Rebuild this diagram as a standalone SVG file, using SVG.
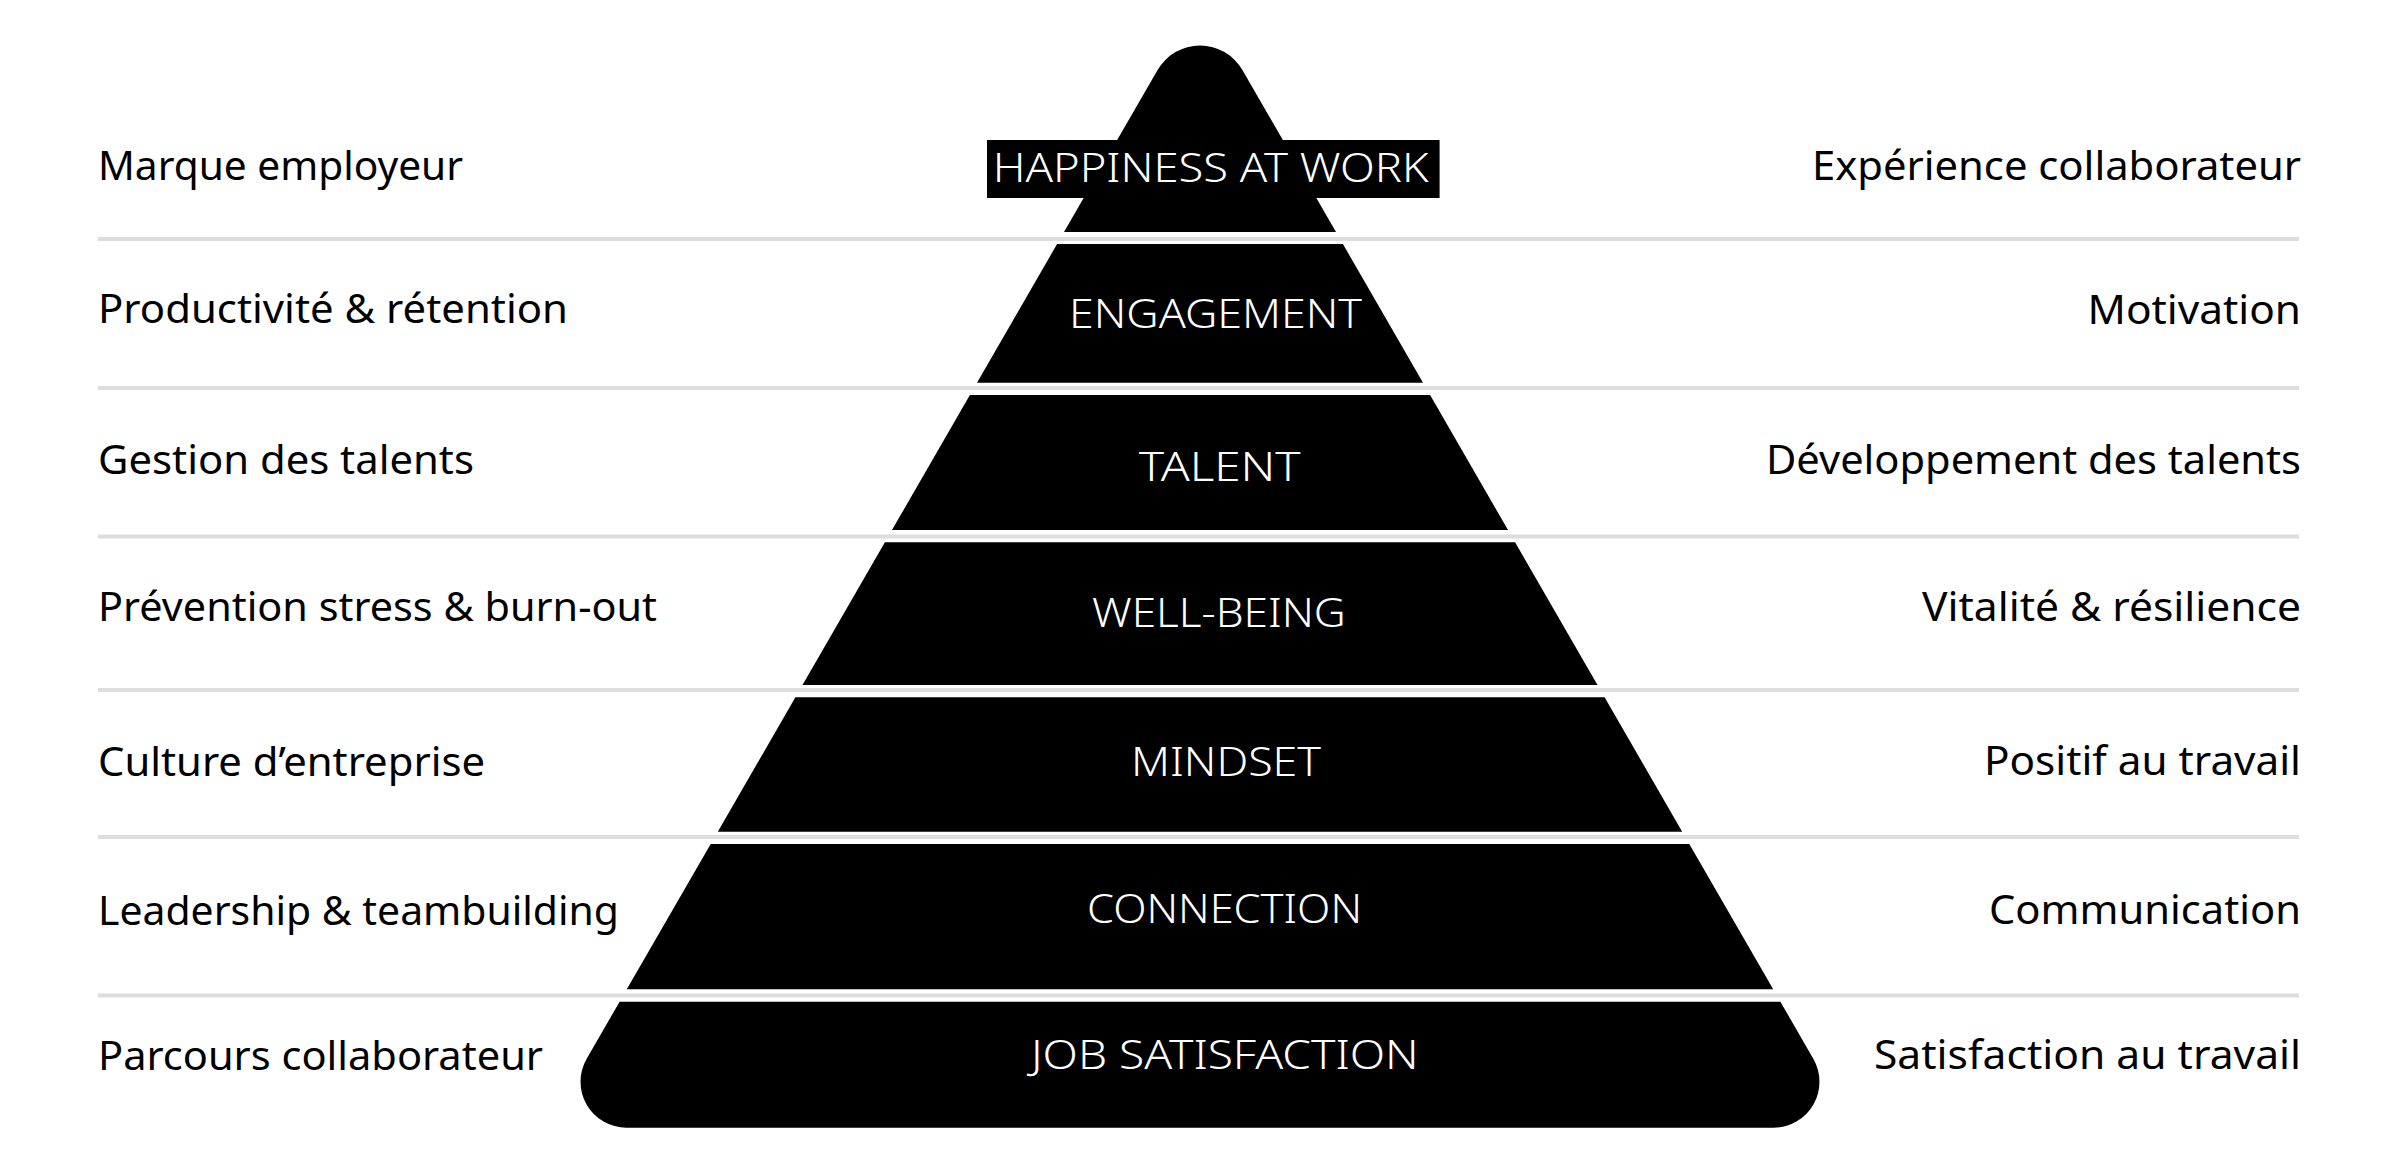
<svg xmlns="http://www.w3.org/2000/svg" width="2400" height="1164" viewBox="0 0 2400 1164">
  <style>
    .side { font-family: "Noto Sans", "Liberation Sans", sans-serif; font-size: 40px; fill: #000000; }
    .tier-label { font-family: "Noto Sans", "Liberation Sans", sans-serif; font-size: 40px; font-weight: 300; fill: #ffffff; }
    .tier { fill: #000000; }
    .rule { stroke: #dddddd; stroke-width: 4; }
  </style>
  <rect x="0" y="0" width="2400" height="1164" fill="#ffffff"/>

  <g id="connectors">
    <line class="rule" x1="98" y1="239" x2="2299" y2="239"/>
    <line class="rule" x1="98" y1="388" x2="2299" y2="388"/>
    <line class="rule" x1="98" y1="536.5" x2="2299" y2="536.5"/>
    <line class="rule" x1="98" y1="690" x2="2299" y2="690"/>
    <line class="rule" x1="98" y1="837" x2="2299" y2="837"/>
    <line class="rule" x1="98" y1="995.5" x2="2299" y2="995.5"/>
  </g>

  <g id="tier-happiness">
    <path class="tier" d="M1064,232 L1157.6,70 A49,49 0 0 1 1242.4,70 L1336,232 Z"/>
    <rect class="tier" x="987" y="140" width="452.6" height="58"/>
    <text class="tier-label" x="992.7" y="181.5" textLength="436" lengthAdjust="spacingAndGlyphs">HAPPINESS AT WORK</text>
  </g>

  <g id="tier-engagement">
    <path class="tier" d="M1057.1,244 L1342.9,244 L1423,382.7 L977,382.7 Z"/>
    <text class="tier-label" x="1069" y="328" textLength="293" lengthAdjust="spacingAndGlyphs">ENGAGEMENT</text>
  </g>

  <g id="tier-talent">
    <path class="tier" d="M969.9,395 L1430.1,395 L1508,530 L892,530 Z"/>
    <text class="tier-label" x="1138.7" y="480.7" textLength="162" lengthAdjust="spacingAndGlyphs">TALENT</text>
  </g>

  <g id="tier-wellbeing">
    <path class="tier" d="M884.9,542.3 L1515.1,542.3 L1597.5,685 L802.5,685 Z"/>
    <text class="tier-label" x="1092" y="627.3" textLength="253.7" lengthAdjust="spacingAndGlyphs">WELL-BEING</text>
  </g>

  <g id="tier-mindset">
    <path class="tier" d="M795.4,697.3 L1604.6,697.3 L1682.2,831.7 L717.8,831.7 Z"/>
    <text class="tier-label" x="1131" y="776" textLength="190" lengthAdjust="spacingAndGlyphs">MINDSET</text>
  </g>

  <g id="tier-connection">
    <path class="tier" d="M710.7,844 L1689.3,844 L1773.2,989.3 L626.8,989.3 Z"/>
    <text class="tier-label" x="1087" y="923.3" textLength="275" lengthAdjust="spacingAndGlyphs">CONNECTION</text>
  </g>

  <g id="tier-job-satisfaction">
    <path class="tier" d="M619.6,1001.7 L1780.4,1001.7 L1813.3,1058.7 A46,46 0 0 1 1773.4,1127.7 L626.6,1127.7 A46,46 0 0 1 586.7,1058.7 Z"/>
    <text class="tier-label" x="1031" y="1069.3" textLength="387.7" lengthAdjust="spacingAndGlyphs">JOB SATISFACTION</text>
  </g>

  <g id="left-labels">
    <text class="side" x="98" y="179.5" textLength="365" lengthAdjust="spacingAndGlyphs">Marque employeur</text>
    <text class="side" x="98" y="322.5" textLength="470" lengthAdjust="spacingAndGlyphs">Productivité &amp; rétention</text>
    <text class="side" x="98" y="474" textLength="376" lengthAdjust="spacingAndGlyphs">Gestion des talents</text>
    <text class="side" x="98" y="621" textLength="559" lengthAdjust="spacingAndGlyphs">Prévention stress &amp; burn-out</text>
    <text class="side" x="98" y="775.5" textLength="387" lengthAdjust="spacingAndGlyphs">Culture d’entreprise</text>
    <text class="side" x="98" y="925" textLength="521" lengthAdjust="spacingAndGlyphs">Leadership &amp; teambuilding</text>
    <text class="side" x="98" y="1069.5" textLength="445" lengthAdjust="spacingAndGlyphs">Parcours collaborateur</text>
  </g>

  <g id="right-labels" text-anchor="end">
    <text class="side" x="2301" y="180" textLength="489" lengthAdjust="spacingAndGlyphs">Expérience collaborateur</text>
    <text class="side" x="2301" y="324" textLength="213.5" lengthAdjust="spacingAndGlyphs">Motivation</text>
    <text class="side" x="2301" y="474" textLength="535" lengthAdjust="spacingAndGlyphs">Développement des talents</text>
    <text class="side" x="2301" y="620.5" textLength="379" lengthAdjust="spacingAndGlyphs">Vitalité &amp; résilience</text>
    <text class="side" x="2301" y="775" textLength="317" lengthAdjust="spacingAndGlyphs">Positif au travail</text>
    <text class="side" x="2301" y="924" textLength="312" lengthAdjust="spacingAndGlyphs">Communication</text>
    <text class="side" x="2301" y="1069" textLength="427" lengthAdjust="spacingAndGlyphs">Satisfaction au travail</text>
  </g>
</svg>
